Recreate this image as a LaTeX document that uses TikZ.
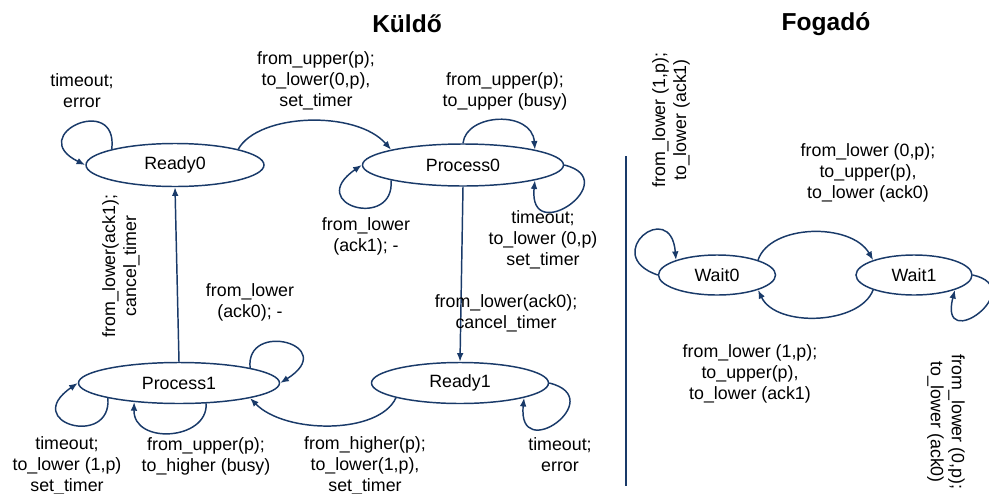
\documentclass[tikz,border=0pt]{standalone}
\usepackage{fontspec}
\setmainfont{Liberation Sans}
\usetikzlibrary{shapes.geometric,arrows.meta}
\definecolor{navy}{RGB}{25,58,105}
\newcommand\dfont{\fontsize{13.35pt}{15.75pt}\selectfont}
\newcommand\tfont{\fontsize{18.4pt}{22pt}\selectfont\bfseries}
\begin{document}
\begin{tikzpicture}[x=0.75pt,y=-0.75pt,
  state/.style={ellipse, draw=navy, line width=1.1pt, inner sep=0pt, font=\dfont, text=black},
  lbl/.style={align=center, font=\dfont, inner sep=0pt, text=black},
  ttl/.style={font=\tfont, anchor=base, inner sep=0pt},
  edge/.style={draw=navy, line width=1.1pt, -{Latex[length=6.5pt,width=5pt]}},
  divider/.style={draw=navy, line width=1.3pt}]
\useasboundingbox (0,0) rectangle (989,493);
\fill[white] (0,0) rectangle (989,493);
\clip (0,0) rectangle (989,493);

% titles
\node[ttl] (t1) at (407,32) {Küldő};
\node[ttl] (t2) at (826,30) {Fogadó};

% states
\node[state, minimum width=133.5pt, minimum height=32.25pt] (R0) at (175,165) {Ready0};
\node[state, minimum width=150.75pt, minimum height=31.5pt] (P0) at (463,165) {Process0};
\node[state, minimum width=150.75pt, minimum height=30.75pt] (P1) at (179,383) {Process1};
\node[state, minimum width=132.75pt, minimum height=30.75pt] (R1) at (460,383) {Ready1};
\node[state, minimum width=87.75pt, minimum height=30pt] (W0) at (717,275) {Wait0};
\node[state, minimum width=87pt, minimum height=30pt] (W1) at (914,275) {Wait1};

% divider
\coordinate (d1) at (626,156);
\coordinate (d2) at (626,486);
\draw[divider] (d1) -- (d2);

% sender edges
\draw[edge] (R0.166) .. controls +(7,-57) and +(-61,-30) .. (R0.west);
\draw[edge] (R0.14) .. controls +(20,-36) and +(-35,-40) .. (P0.168);
\draw[edge] (P0.north) .. controls +(3,-30) and +(-3,-40) .. (P0.12);
\draw[edge] (P0.192) .. controls +(4,50) and +(-58,40) .. (P0.west);
\draw[edge] (P0.east) .. controls +(61,15) and +(-7,68) .. (P0.-12);
\draw[edge] (P0.south) -- (R1.north);
\draw[edge] (R1.east) .. controls +(61,15) and +(-7,68) .. (R1.-13);
\draw[edge] (R1.193) .. controls +(-17,37) and +(35,36) .. (P1.-12);
\draw[edge] (P1.north) -- (R0.south);
\draw[edge] (P1.12) .. controls +(-5,-48) and +(60.5,-38) .. (P1.east);
\draw[edge] (P1.192) .. controls +(4,50) and +(-58,40) .. (P1.west);
\draw[edge] (P1.-37) .. controls +(2,37) and +(-1,43) .. (P1.203);

% receiver edges
\draw[edge] (W0.west) .. controls +(-58.5,-20) and +(-5,-63) .. (W0.160);
\draw[edge] (W0.20) .. controls +(12,-36) and +(-22,-38) .. (W1.160);
\draw[edge] (W1.200) .. controls +(-13,35) and +(18,38) .. (W0.-20);
\draw[edge] (W1.east) .. controls +(58,13) and +(-17,66) .. (W1.-20);

% sender labels
\node[lbl] (L1) at (82,91) {timeout;\\error};
\node[lbl] (L2) at (316,81) {from\_upper(p);\\to\_lower(0,p),\\set\_timer};
\node[lbl] (L3) at (505,91) {from\_upper(p);\\to\_upper (busy)};
\node[lbl] (L4) at (366,236) {from\_lower\\(ack1); -};
\node[lbl] (L5) at (543,240) {timeout;\\to\_lower (0,p)\\set\_timer};
\node[lbl] (L6) at (506,313) {from\_lower(ack0);\\cancel\_timer};
\node[lbl] (L7) at (250,302) {from\_lower\\(ack0); -};
\node[lbl, rotate=90] (L8) at (121,266) {from\_lower(ack1);\\cancel\_timer};
\node[lbl] (L9) at (67,466) {timeout;\\to\_lower (1,p)\\set\_timer};
\node[lbl] (L10) at (206,456) {from\_upper(p);\\to\_higher (busy)};
\node[lbl] (L11) at (365,466) {from\_higher(p);\\to\_lower(1,p),\\set\_timer};
\node[lbl] (L12) at (560,455) {timeout;\\error};

% receiver labels
\node[lbl, rotate=90] (L13) at (671,120) {from\_lower (1,p);\\to\_lower (ack1)};
\node[lbl] (L14) at (868,173) {from\_lower (0,p);\\to\_upper(p),\\to\_lower (ack0)};
\node[lbl] (L15) at (750,374) {from\_lower (1,p);\\to\_upper(p),\\to\_lower (ack1)};
\node[lbl, rotate=-90] (L16) at (946,422) {from\_lower (0,p);\\to\_lower (ack0)};
\end{tikzpicture}
\end{document}
